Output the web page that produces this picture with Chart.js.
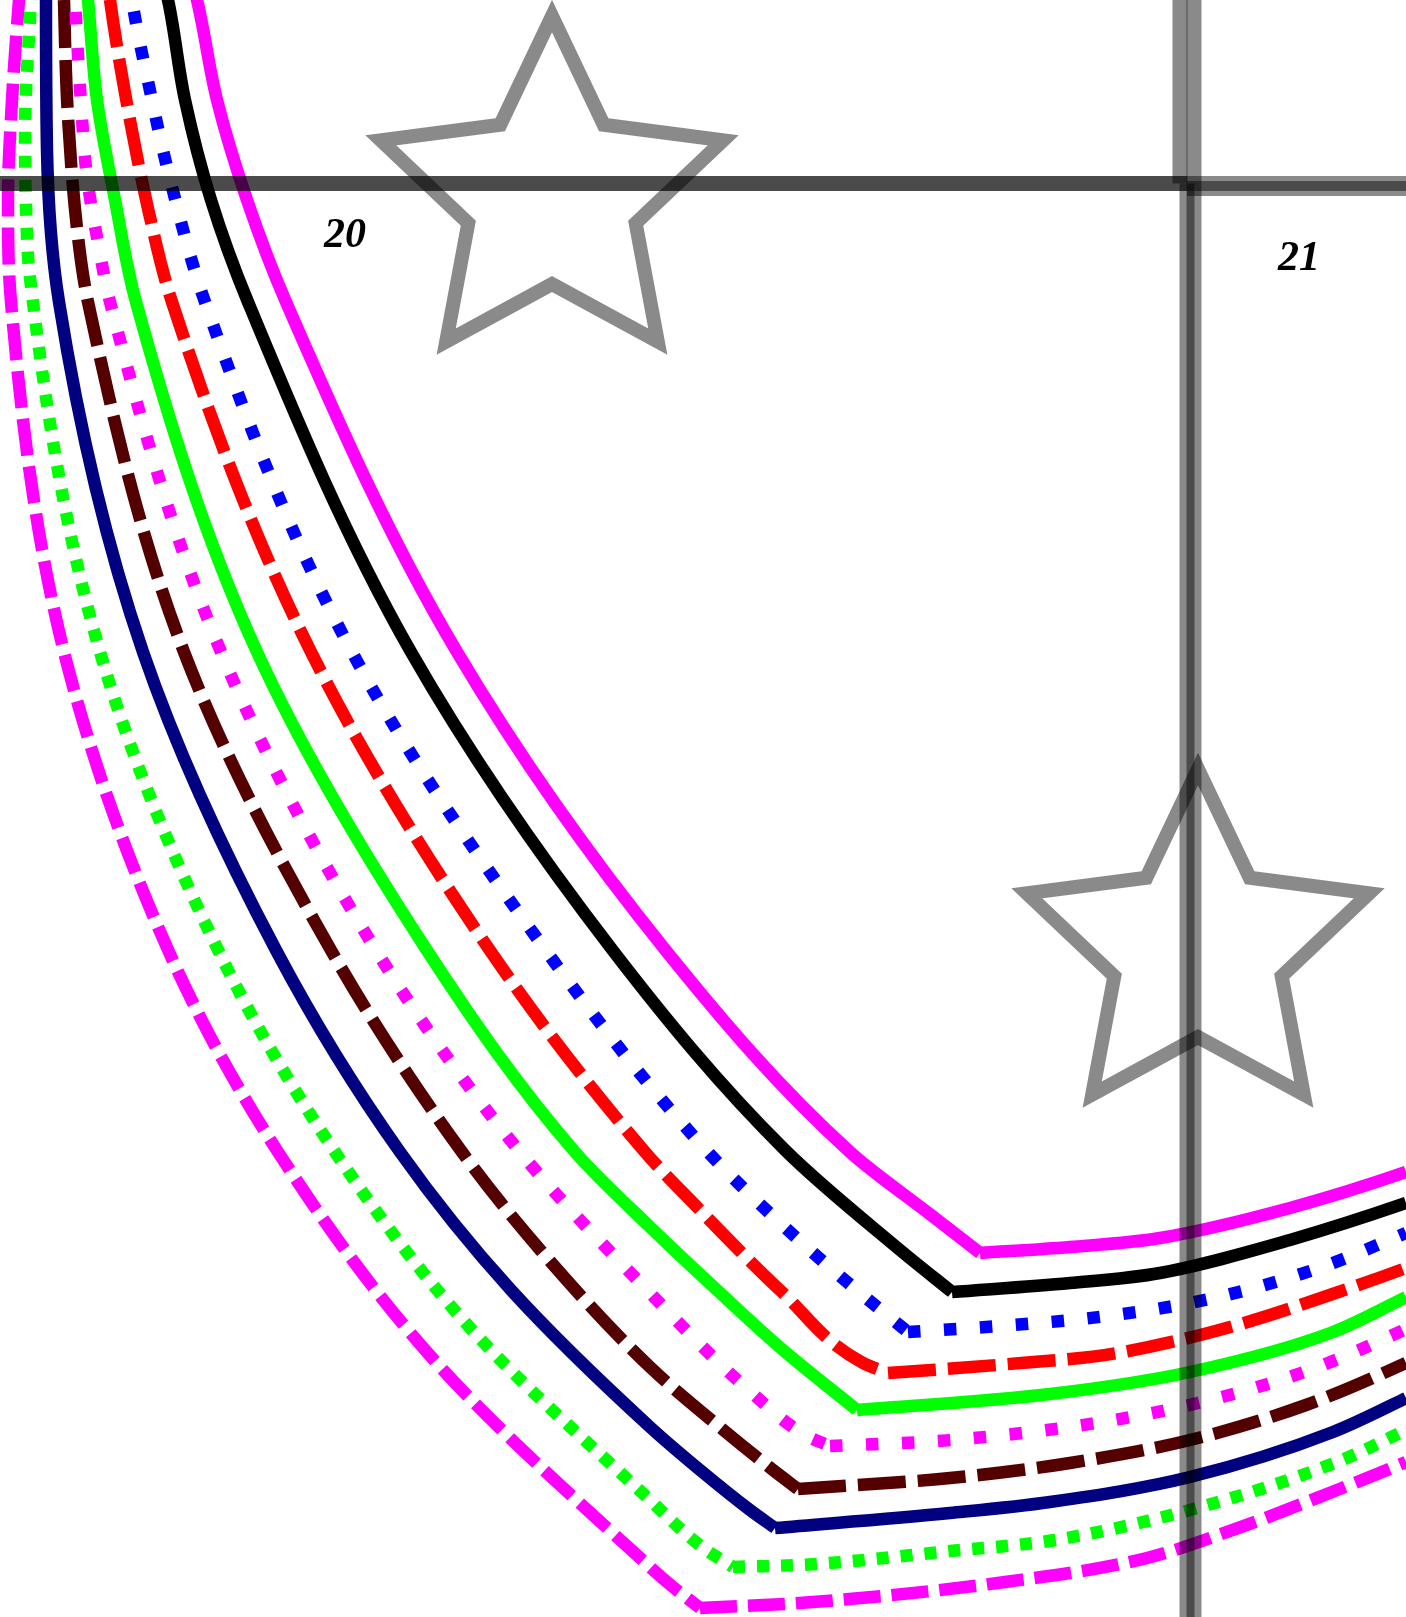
<!DOCTYPE html>
<html><head><meta charset="utf-8">
<script src="https://cdn.jsdelivr.net/npm/chart.js@4.4.1/dist/chart.umd.min.js"></script>
<style>html,body{margin:0;padding:0;background:#fff;overflow:hidden}canvas{display:block}</style>
</head><body>
<canvas id="c" width="1406" height="1617" style="width:1406px;height:1617px"></canvas>
<script>
// ---- data (scale units) ----
const magentaSolidLeft = [[180,-60],[197,0],[217,100],[247,200],[286,302],[457,652],[667,952],[850,1152],[931,1215],[980,1253]];
const magentaSolidRight = [[980,1253],[1070,1247],[1160,1238],[1290,1208],[1406,1172],[1500,1136]];
const blackLeft = [[152,-60],[168,0],[185,100],[211,200],[248,302],[411,652],[614,952],[785,1150],[900,1250],[952,1292]];
const blackRight = [[952,1292],[1070,1283],[1160,1273],[1290,1240],[1406,1203],[1500,1168]];
const blueDottedLeft = [[125,-60],[132,0],[152,100],[168,171],[205,302],[352,652],[547,952],[708,1152],[810,1250],[893,1320],[908,1332]];
const blueDottedRight = [[908,1332],[1000,1326],[1107,1316],[1214,1298],[1319,1268],[1406,1233],[1500,1194]];
const redDashedLeft = [[103,-60],[110,0],[125,93],[149,213],[172,302],[311,652],[491,952],[645,1152],[697,1207],[783,1293],[863,1363],[888,1373]];
const redDashedRight = [[888,1373],[997,1365],[1117,1353],[1237,1325],[1350,1288],[1406,1268],[1500,1232]];
const greenSolidLeft = [[82,-60],[88,0],[97,100],[115,200],[136,302],[257,652],[428,952],[575,1152],[650,1227],[717,1290],[783,1350],[857,1410]];
const greenSolidRight = [[857,1410],[1050,1394],[1190,1372],[1333,1332],[1406,1297],[1500,1250]];
const magentaDottedLeft = [[72,-60],[75,0],[81,103],[87,177],[99,248],[110,302],[221,652],[377,952],[520,1152],[650,1293],[752,1393],[809,1437],[830,1446]];
const magentaDottedRight = [[830,1446],[952,1440],[1096,1423],[1202,1402],[1307,1371],[1406,1329],[1500,1283]];
const darkRedDashedLeft = [[63,-60],[64,0],[68,117],[78,237],[88,302],[184,652],[332,952],[462,1152],[549,1260],[650,1367],[727,1433],[773,1470],[798,1489]];
const darkRedDashedRight = [[798,1489],[950,1478],[1070,1463],[1190,1440],[1306,1405],[1406,1363],[1500,1318]];
const navyLeft = [[47,-60],[46,0],[47,150],[59,302],[143,652],[277,952],[400,1152],[511,1290],[650,1427],[700,1470],[750,1510],[775,1528]];
const navyRight = [[775,1528],[950,1513],[1050,1502],[1190,1477],[1333,1432],[1406,1398],[1500,1350]];
const greenDottedLeft = [[34,-60],[31,0],[25,133],[26,205],[30,278],[100,652],[219,952],[335,1152],[472,1330],[650,1500],[702,1547],[733,1567]];
const greenDottedRight = [[733,1567],[816,1564],[950,1551],[1055,1540],[1197,1508],[1337,1462],[1406,1430],[1500,1385]];
const magentaDashedLeft = [[24,-60],[19,0],[12,100],[8,200],[11,302],[64,652],[169,952],[278,1152],[434,1360],[650,1567],[673,1587],[700,1608]];
const magentaDashedRight = [[700,1608],[813,1602],[1005,1582],[1147,1558],[1241,1527],[1332,1492],[1406,1462],[1500,1420]];

// grid line segments [x1,y1,x2,y2]
const gridSegments = [
  [-50,183.5,1500,183.5],
  [-50,183.5,1187,183.5],
  [1187,188.5,1500,188.5],
  [1194,-50,1194,1700],
  [1180,-50,1180,183.5],
  [1187,183.5,1187,1700]
];
const starMarkers = [[552,196],[1198,949]];
const tickLabels = ['20','21'];
const tickLabelAnchors = [[345,236],[1299,259]];

// ---- styles ----
const curves = [
  {left: magentaSolidLeft, right: magentaSolidRight, color:'#ff00ff', dash:[]},
  {left: blackLeft, right: blackRight, color:'#000000', dash:[]},
  {left: blueDottedLeft, right: blueDottedRight, color:'#0000ff', dash:[12.5,23.5]},
  {left: redDashedLeft, right: redDashedRight, color:'#ff0000', dash:[48,12]},
  {left: greenSolidLeft, right: greenSolidRight, color:'#00ff00', dash:[]},
  {left: magentaDottedLeft, right: magentaDottedRight, color:'#ff00ff', dash:[12.5,23.5]},
  {left: darkRedDashedLeft, right: darkRedDashedRight, color:'#550000', dash:[48,12]},
  {left: navyLeft, right: navyRight, color:'#000080', dash:[]},
  {left: greenDottedLeft, right: greenDottedRight, color:'#00ff00', dash:[12,12]},
  {left: magentaDashedLeft, right: magentaDashedRight, color:'#ff00ff', dash:[37,11]}
];
const toPts = a => a.map(p => ({x:p[0], y:p[1]}));

const datasets = [];
curves.forEach(c => {
  [[c.left, 'y'], [c.right, 'x']].forEach(([seg, axis]) => {
    datasets.push({
      data: toPts(seg), showLine: true, indexAxis: axis,
      borderColor: c.color, borderWidth: 12.5,
      borderDash: c.dash, borderCapStyle: 'butt', borderJoinStyle: 'miter',
      cubicInterpolationMode: 'monotone', tension: 0.4,
      pointRadius: 0, fill: false, order: 3
    });
  });
});
gridSegments.forEach(s => {
  datasets.push({
    data: [{x:s[0],y:s[1]},{x:s[2],y:s[3]}], showLine: true,
    borderColor: 'rgba(0,0,0,0.46)', borderWidth: 15, borderCapStyle: 'butt',
    tension: 0, pointRadius: 0, fill: false, order: 2
  });
});

function makeStar(R, r, lw, color) {
  const size = Math.ceil(2 * (R + 2 * lw));
  const c = document.createElement('canvas');
  c.width = size; c.height = size;
  const g = c.getContext('2d');
  const cx = size / 2;
  g.beginPath();
  for (let i = 0; i < 10; i++) {
    const rad = i % 2 === 0 ? R : r;
    const a = -Math.PI / 2 + i * Math.PI / 5;
    const px = cx + rad * Math.cos(a), py = cx + rad * Math.sin(a);
    if (i) g.lineTo(px, py); else g.moveTo(px, py);
  }
  g.closePath();
  g.lineWidth = lw; g.lineJoin = 'miter'; g.miterLimit = 10;
  g.strokeStyle = color; g.stroke();
  return c;
}
const starImg = makeStar(180, 88, 14, 'rgba(0,0,0,0.46)');
datasets.push({
  data: toPts(starMarkers), showLine: false, pointStyle: starImg,
  pointRadius: 10, pointHoverRadius: 10, order: 1
});

const tickTextPlugin = {
  id: 'tickText',
  afterDatasetsDraw(chart) {
    const {ctx, scales: {x, y}} = chart;
    ctx.save();
    ctx.font = 'italic bold 42px "Liberation Serif"';
    ctx.fillStyle = '#000';
    ctx.textAlign = 'center';
    ctx.textBaseline = 'middle';
    tickLabels.forEach((t, i) => {
      ctx.fillText(t, x.getPixelForValue(tickLabelAnchors[i][0]), y.getPixelForValue(tickLabelAnchors[i][1]));
    });
    ctx.restore();
  }
};

new Chart(document.getElementById('c'), {
  type: 'scatter',
  data: { datasets },
  options: {
    responsive: false, animation: false, devicePixelRatio: 1,
    layout: { padding: 0, autoPadding: false },
    elements: { line: { capBezierPoints: false } },
    plugins: { legend: { display: false }, tooltip: { enabled: false } },
    events: [],
    scales: {
      x: { type: 'linear', min: 0, max: 1406, display: false },
      y: { type: 'linear', min: 0, max: 1617, reverse: true, display: false }
    }
  },
  plugins: [tickTextPlugin]
});
</script>
</body></html>
